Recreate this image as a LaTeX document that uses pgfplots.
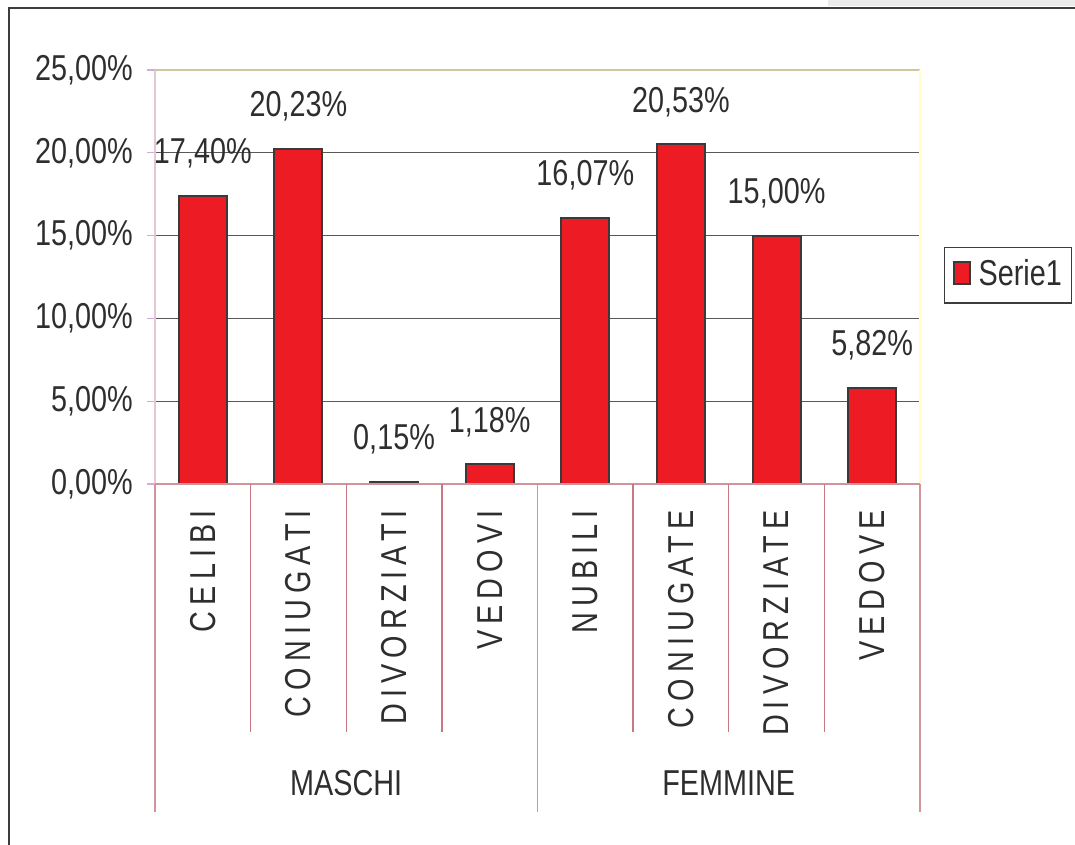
\documentclass[border=0pt]{standalone}
\usepackage{fontspec}
\setmainfont[FakeStretch=0.8]{Liberation Sans}
\newfontfamily\spaced[FakeStretch=0.8,LetterSpace=17]{Liberation Sans}
\usepackage{pgfplots}
\pgfplotsset{compat=1.18}
\definecolor{barred}{HTML}{ED1C24}
\definecolor{bardark}{HTML}{3A3A3A}
\definecolor{txt}{HTML}{2E2E2E}
\definecolor{sep}{HTML}{C87884}
\definecolor{basel}{HTML}{D0949C}
\definecolor{yax}{HTML}{E2C8D4}
\definecolor{ytk}{HTML}{D4A8E0}
\definecolor{topb}{HTML}{CFC7A2}
\definecolor{rightb}{HTML}{FFFFC8}
\definecolor{gridc}{HTML}{595959}
\definecolor{framec}{HTML}{3C3C3C}
\begin{document}
\fontsize{36}{40}\selectfont
\begin{tikzpicture}[x=1pt,y=1pt]
\useasboundingbox (0,0) rectangle (1075,845);
\fill[black!8] (828,839) rectangle (1075,845);
\draw[framec, line width=2.5pt] (9,0) -- (9,837) -- (1075,837);
\begin{axis}[
  at={(155pt,361pt)}, anchor=south west,
  scale only axis, width=765pt, height=414pt,
  xmin=-0.5, xmax=7.5, ymin=0, ymax=25,
  ybar, bar width=48pt,
  clip=false,
  axis line style={draw=none},
  ytick={0,5,...,25},
  ytick pos=left,
  yticklabel={\pgfmathprintnumber[fixed,fixed zerofill,precision=2,use comma,assume math mode=true]{\tick}\%},
  yticklabel style={txt, inner sep=0pt},
  yticklabel shift=14pt,
  tick align=outside,
  major tick length=8pt,
  ytick style={ytk, line width=1.2pt},
  xtick=data,
  xtick pos=bottom,
  xtick style={draw=none},
  xticklabels={CELIBI,CONIUGATI,DIVORZIATI,VEDOVI,NUBILI,CONIUGATE,DIVORZIATE,VEDOVE},
  xticklabel style={txt, rotate=90, anchor=east, inner sep=0pt, font=\spaced},
  xticklabel shift=18pt,
  ymajorgrids,
  grid style={gridc, line width=1pt},
  legend style={at={(1.0314,0.5725)}, anchor=north west, draw=framec, line width=1.2pt,
    inner xsep=8pt, inner ysep=10pt, text=txt, fill=white,
    /tikz/every odd column/.append style={column sep=6pt}},
  legend image code/.code={\draw[fill=barred, draw=bardark, line width=2pt] (0pt,-9pt) rectangle (16pt,13pt);},
]
\addplot[fill=barred, draw=bardark, line width=2pt,
  nodes near coords={\pgfmathprintnumber[fixed,fixed zerofill,precision=2,use comma,assume math mode=true]{\pgfplotspointmeta}\%},
  every node near coord/.append style={txt, inner sep=0pt, text depth=0pt, yshift=31pt}]
  coordinates {(0,17.40) (1,20.23) (2,0.15) (3,1.18) (4,16.07) (5,20.53) (6,15.00) (7,5.82)};
\addlegendentry{Serie1}
\draw[yax, line width=1.5pt] (rel axis cs:0,0) -- (rel axis cs:0,1);
\draw[topb, line width=2pt] (rel axis cs:0,1) -- (rel axis cs:1,1);
\draw[rightb, line width=2pt] (rel axis cs:1,1) -- (rel axis cs:1,0);
\draw[basel, line width=1.5pt] (axis cs:-0.5,0) -- (axis cs:7.5,0);
\pgfplotsinvokeforeach{0.5,1.5,2.5,4.5,5.5,6.5}{
  \draw[sep, line width=1.3pt] (axis cs:#1,0) -- (axis cs:#1,-14.98);
}
\pgfplotsinvokeforeach{-0.5,3.5,7.5}{
  \draw[sep!80, line width=1.3pt] (axis cs:#1,0) -- (axis cs:#1,-19.8);
}
\node[txt] at (axis cs:1.5,-18.06) {MASCHI};
\node[txt] at (axis cs:5.5,-18.06) {FEMMINE};
\end{axis}
\end{tikzpicture}
\end{document}
